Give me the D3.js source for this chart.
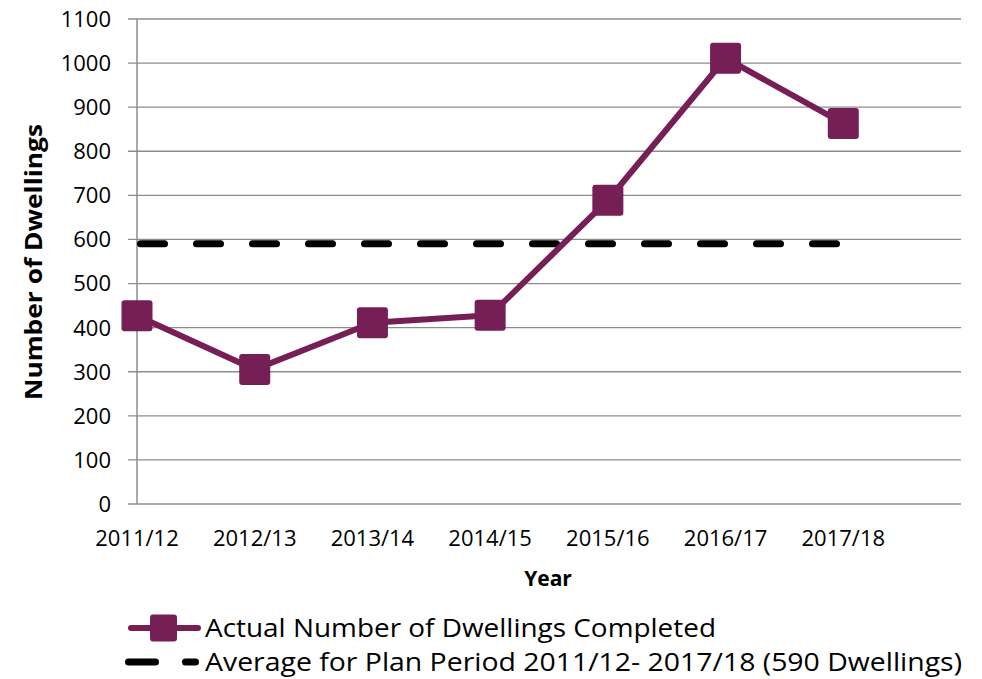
<!DOCTYPE html>
<html>
<head>
<meta charset="utf-8">
<script src="https://cdn.jsdelivr.net/npm/d3@7"></script>
<style>
  body { margin: 0; background: #fff; }
  text { font-family: "Open Sans", sans-serif; fill: #000; }
</style>
</head>
<body>
<div id="chart"></div>
<script>
var years = ['2011/12', '2012/13', '2013/14', '2014/15', '2015/16', '2016/17', '2017/18'];
var completed = [427, 305, 411, 428, 689, 1011, 863];
var average = 590;
var yTicks = [0, 100, 200, 300, 400, 500, 600, 700, 800, 900, 1000, 1100];
var legendLabels = ['Actual Number of Dwellings Completed', 'Average for Plan Period 2011/12- 2017/18 (590 Dwellings)'];

var width = 982, height = 679;
var purple = '#761f56', grid = '#8c8c8c';

var svg = d3.select('#chart').append('svg')
  .attr('width', width)
  .attr('height', height);

// one empty slot after the last year, like the original axis
var x = d3.scaleLinear().domain([0, years.length]).range([137, 961]);
var y = d3.scaleLinear().domain([0, 1100]).range([504, 19]);

// gridlines
svg.append('g').selectAll('line.grid')
  .data(yTicks)
  .enter().append('line')
  .attr('class', 'grid')
  .attr('x1', 128).attr('x2', x(years.length))
  .attr('y1', function(d) { return y(d); })
  .attr('y2', function(d) { return y(d); })
  .attr('stroke', grid).attr('stroke-width', 1.3);

// y axis line
svg.append('line')
  .attr('x1', x(0)).attr('x2', x(0))
  .attr('y1', y(1100)).attr('y2', y(0))
  .attr('stroke', grid).attr('stroke-width', 1.5);

// y tick labels
svg.append('g').selectAll('text.ytick')
  .data(yTicks)
  .enter().append('text')
  .attr('class', 'ytick')
  .attr('x', 111)
  .attr('y', function(d) { return y(d); })
  .attr('dy', '0.36em')
  .attr('text-anchor', 'end')
  .style('font-size', '22px')
  .text(function(d) { return d; });

// x tick labels
svg.append('g').selectAll('text.xtick')
  .data(years)
  .enter().append('text')
  .attr('class', 'xtick')
  .attr('x', function(d, i) { return x(i); })
  .attr('y', 546)
  .attr('text-anchor', 'middle')
  .style('font-size', '22px')
  .text(function(d) { return d; });

// axis titles
svg.append('text')
  .attr('x', 548).attr('y', 586)
  .attr('text-anchor', 'middle')
  .style('font-size', '21px').style('font-weight', 'bold')
  .text('Year');

svg.append('text')
  .attr('transform', 'translate(42,262)rotate(-90)')
  .attr('text-anchor', 'middle')
  .style('font-size', '23px').style('font-weight', 'bold')
  .attr('textLength', 276).attr('lengthAdjust', 'spacingAndGlyphs')
  .text('Number of Dwellings');

// average dashed line
svg.append('line')
  .attr('x1', x(0) + 3.5).attr('x2', x(years.length - 1))
  .attr('y1', y(average)).attr('y2', y(average))
  .attr('stroke', '#000').attr('stroke-width', 7)
  .attr('stroke-linecap', 'round')
  .attr('stroke-dasharray', '24,32');

// completed series
var line = d3.line()
  .x(function(d, i) { return x(i); })
  .y(function(d) { return y(d); });

svg.append('path')
  .datum(completed)
  .attr('d', line)
  .attr('fill', 'none')
  .attr('stroke', purple)
  .attr('stroke-width', 6)
  .attr('stroke-linejoin', 'round');

svg.append('g').selectAll('rect.marker')
  .data(completed)
  .enter().append('rect')
  .attr('class', 'marker')
  .attr('x', function(d, i) { return x(i) - 15.5; })
  .attr('y', function(d) { return y(d) - 15.5; })
  .attr('width', 31).attr('height', 31)
  .attr('rx', 3)
  .attr('fill', purple);

// legend
var leg = svg.append('g');
leg.append('line')
  .attr('x1', 131).attr('x2', 198)
  .attr('y1', 628).attr('y2', 628)
  .attr('stroke', purple).attr('stroke-width', 6).attr('stroke-linecap', 'round');
leg.append('rect')
  .attr('x', 150).attr('y', 614.5).attr('width', 27).attr('height', 27).attr('rx', 3)
  .attr('fill', purple);
leg.append('line')
  .attr('x1', 128.5).attr('x2', 195.5)
  .attr('y1', 662).attr('y2', 662)
  .attr('stroke', '#000').attr('stroke-width', 7)
  .attr('stroke-linecap', 'round')
  .attr('stroke-dasharray', '27,30');

leg.selectAll('text.legend')
  .data(legendLabels)
  .enter().append('text')
  .attr('class', 'legend')
  .attr('x', 205)
  .attr('y', function(d, i) { return 637 + i * 34; })
  .style('font-size', '26px')
  .attr('textLength', function(d, i) { return i === 0 ? 511 : 757; })
  .attr('lengthAdjust', 'spacingAndGlyphs')
  .text(function(d) { return d; });
</script>
</body>
</html>
